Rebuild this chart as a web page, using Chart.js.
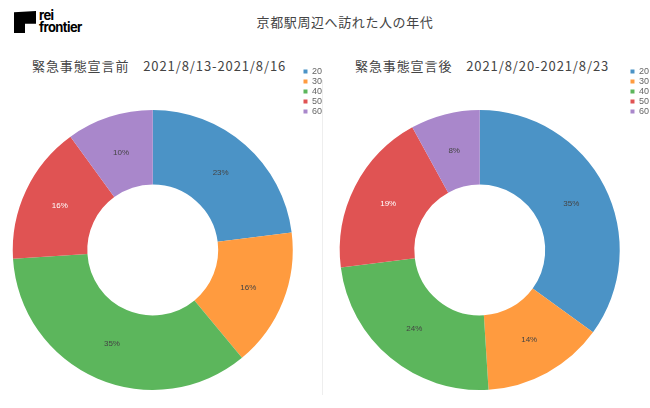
<!DOCTYPE html>
<html lang="ja">
<head>
    <meta charset="UTF-8">
    <title>京都駅周辺へ訪れた人の年代</title>
    <script src="https://cdn.jsdelivr.net/npm/chart.js"></script>
    <style>
        html, body { margin: 0; padding: 0; background: #fff; overflow: hidden; }
        body { width: 650px; height: 408px; position: relative; font-family: "Noto Sans CJK JP", "Noto Sans", sans-serif; }
        .logo-mark { position: absolute; left: 14px; top: 11px; width: 22px; height: 22px; background: #000;
            clip-path: polygon(0 6%, 100% 0, 100% 58%, 50% 58%, 50% 100%, 0 100%); }
        .logo-text { position: absolute; left: 39px; top: 9px; font-family: Inter, Roboto, sans-serif; font-weight: 700;
            font-size: 13px; line-height: 12px; letter-spacing: -0.6px; color: #000; }
        .titulo { position: absolute; left: 0; width: 650px; top: 12px; text-align: center; font-size: 13px; color: #444; padding-left: 40px; box-sizing: border-box; letter-spacing: 0.6px; }
        .sub { position: absolute; top: 56px; font-size: 13px; color: #444; letter-spacing: 0.9px; white-space: pre; }
        .divisor { position: absolute; left: 322px; top: 80px; width: 1px; height: 315px; background: #eee; }
        .grafico { position: absolute; top: 66px; width: 332px; height: 368px; }
    </style>
</head>
<body>
    <div class="logo-mark"></div>
    <div class="logo-text">rei<br>frontier</div>
    <div class="titulo">京都駅周辺へ訪れた人の年代</div>

    <div class="sub" style="left: 32px;">緊急事態宣言前　2021/8/13-2021/8/16</div>
    <div class="sub" style="left: 355px;">緊急事態宣言後　2021/8/20-2021/8/23</div>
    <div class="divisor"></div>

    <div class="grafico" style="left: 0;"><canvas id="graficoAntes"></canvas></div>
    <div class="grafico" style="left: 327px;"><canvas id="graficoDepois"></canvas></div>

<script>
    // faixas etárias e porcentagens
    const faixas = ['20', '30', '40', '50', '60'];
    const antes = [23, 16, 35, 16, 10];
    const depois = [35, 14, 24, 19, 8];
    const cores = ['#4b93c6', '#ff9b3f', '#5cb65c', '#e05353', '#a987cb'];
    const coresTexto = ['#444', '#444', '#444', '#fff', '#444'];

    // escreve a porcentagem no meio de cada fatia
    const rotulos = {
        id: 'rotulos',
        afterDatasetsDraw(chart) {
            const ctx = chart.ctx;
            const meta = chart.getDatasetMeta(0);
            ctx.save();
            ctx.font = '8px "Liberation Sans", Arial, sans-serif';
            ctx.textAlign = 'center';
            ctx.textBaseline = 'middle';
            meta.data.forEach(function (arco, i) {
                const pos = arco.tooltipPosition();
                ctx.fillStyle = coresTexto[i];
                ctx.fillText(chart.data.datasets[0].data[i] + '%', pos.x, pos.y);
            });
            ctx.restore();
        }
    };

    function criarGrafico(id, valores, esquerda) {
        return new Chart(document.getElementById(id), {
            type: 'doughnut',
            data: {
                labels: faixas,
                datasets: [{
                    data: valores,
                    backgroundColor: cores,
                    borderWidth: 0
                }]
            },
            options: {
                responsive: true,
                maintainAspectRatio: false,
                animation: false,
                radius: 140,
                cutout: 70,
                layout: { padding: { left: esquerda, right: 0, top: 0, bottom: 0 } },
                plugins: {
                    legend: {
                        position: 'right',
                        align: 'start',
                        labels: {
                            boxWidth: 4,
                            boxHeight: 4,
                            padding: 1,
                            color: '#666',
                            font: { size: 9, family: '"Liberation Sans", Arial, sans-serif' }
                        }
                    },
                    tooltip: { enabled: false }
                }
            },
            plugins: [rotulos]
        });
    }

    criarGrafico('graficoAntes', antes, 3);
    criarGrafico('graficoDepois', depois, 3);
</script>
</body>
</html>
